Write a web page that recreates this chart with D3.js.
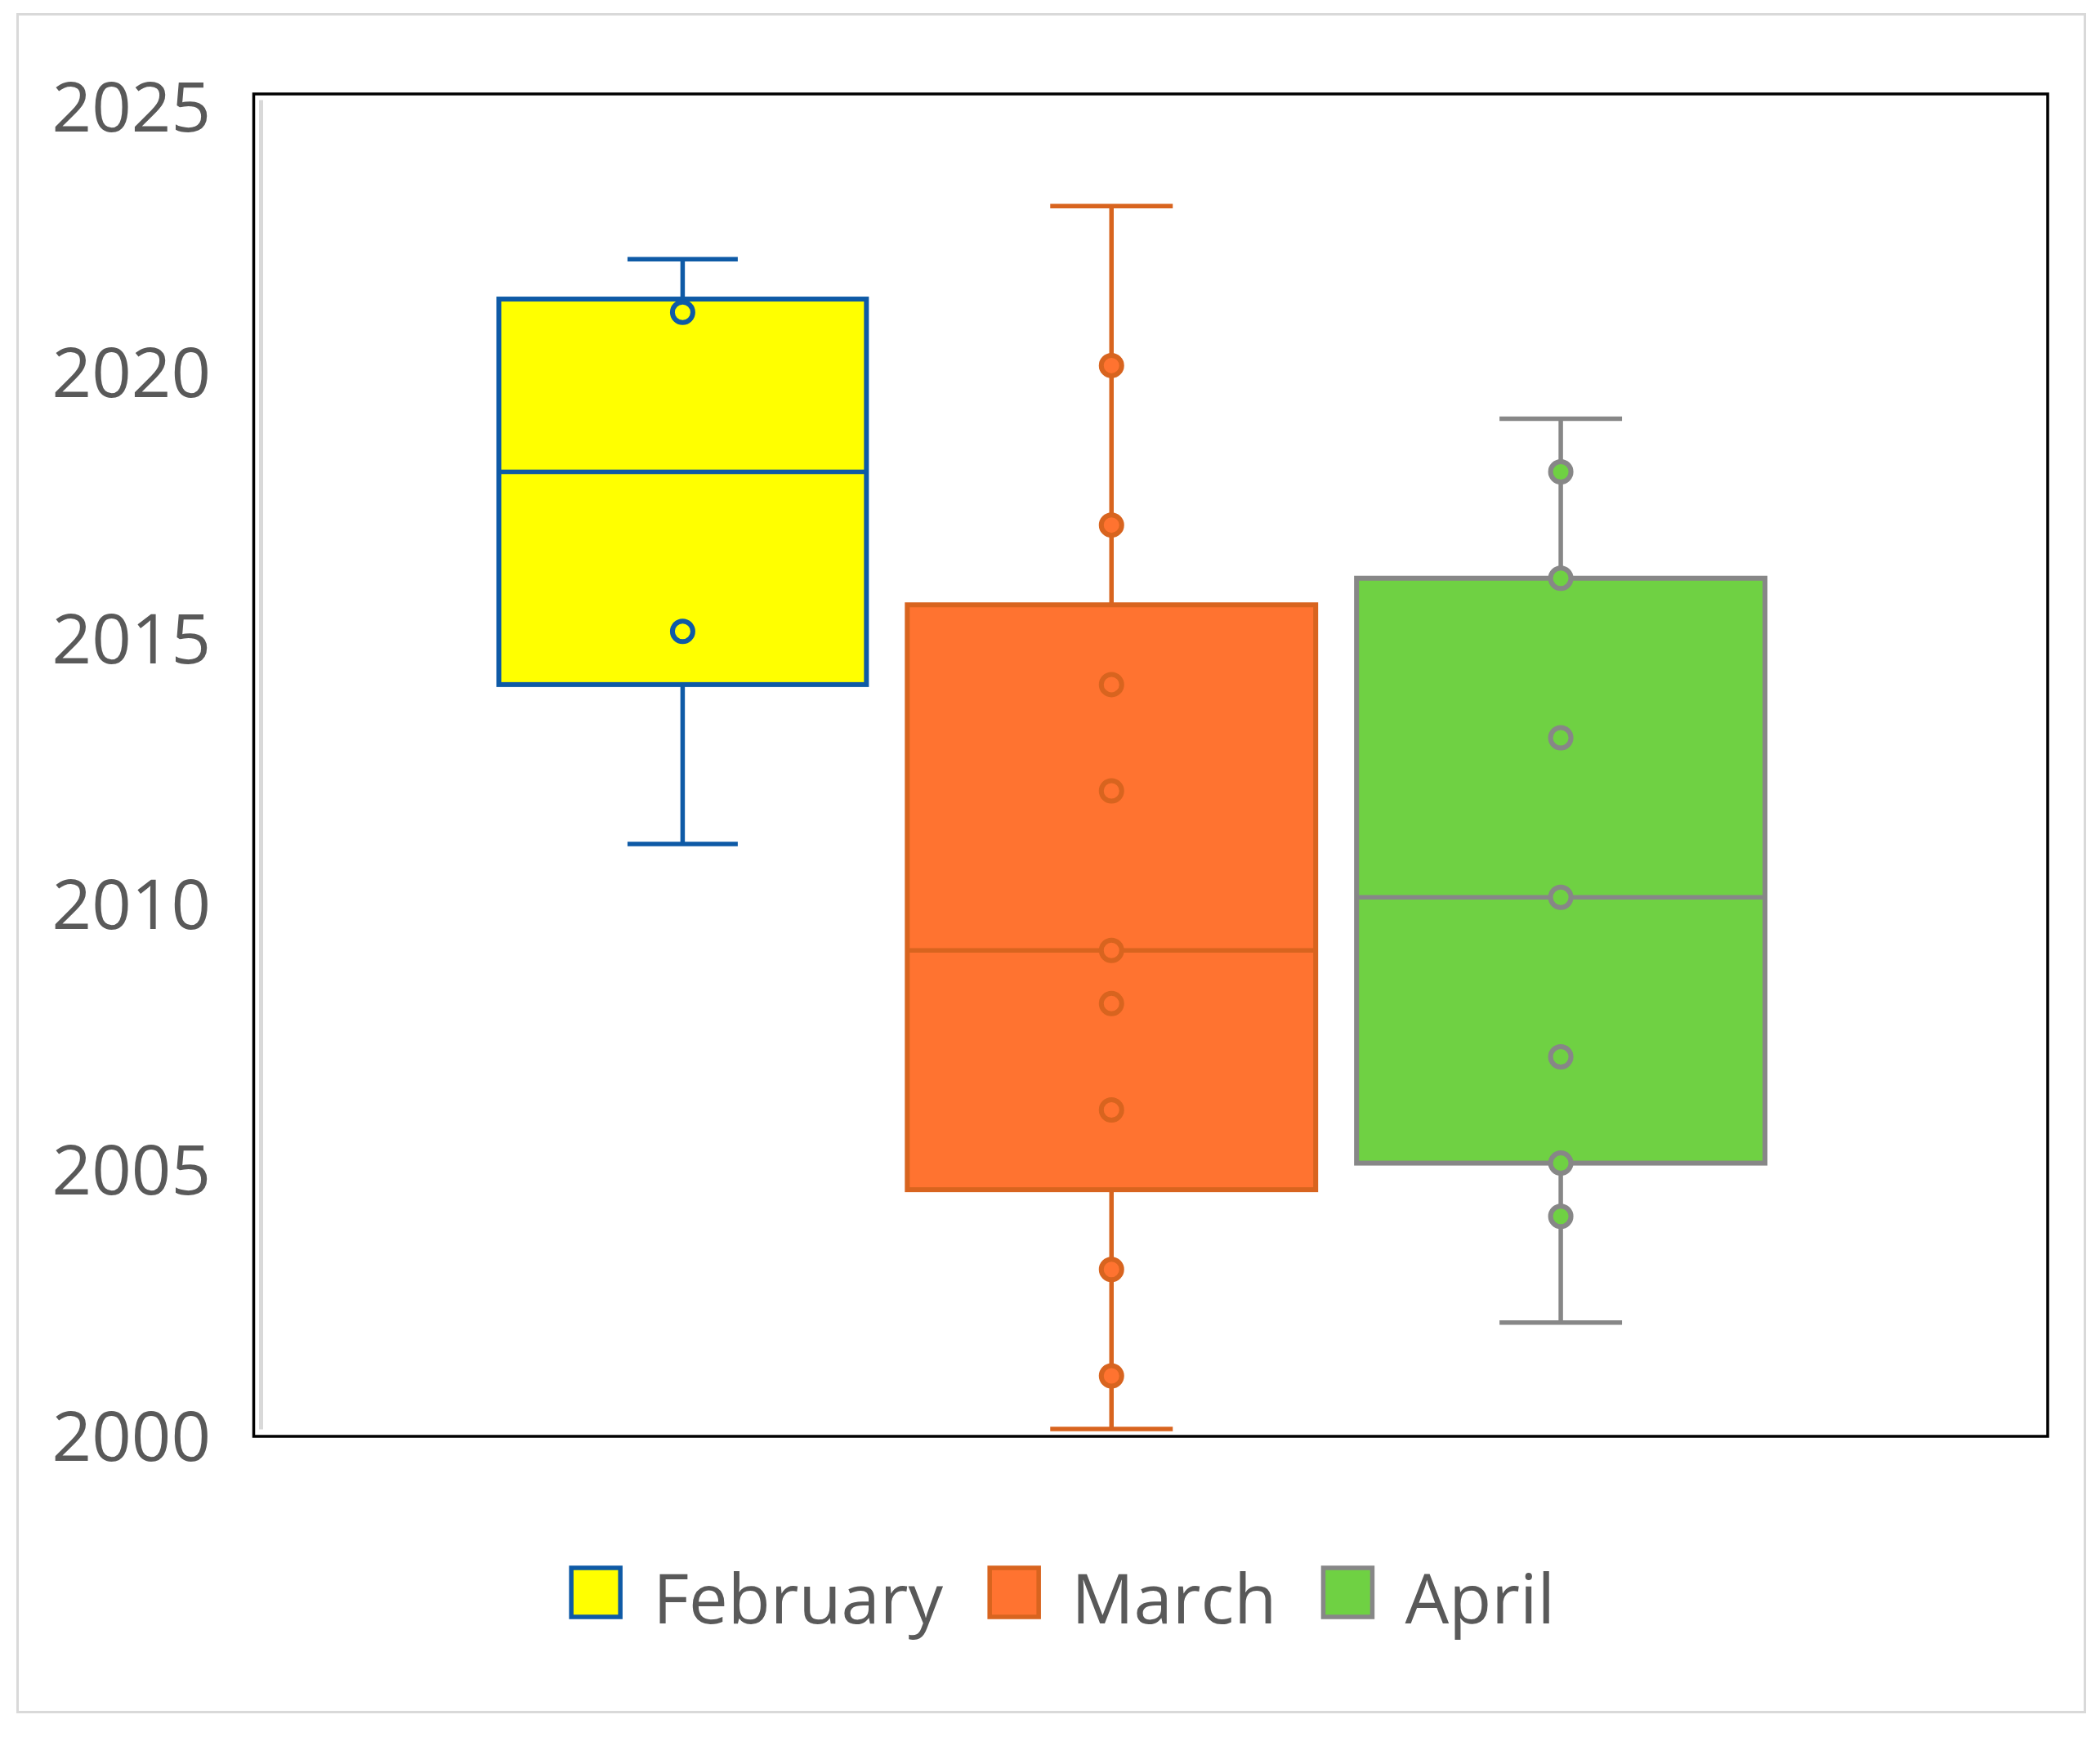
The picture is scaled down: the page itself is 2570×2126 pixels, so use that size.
<!DOCTYPE html>
<html lang="en">
<head>
    <meta charset="UTF-8">
    <title>box and whisker</title>
    <script src="https://cdn.jsdelivr.net/npm/d3@7"></script>
    <style>
        body {
            margin: 0;
            background: #fff;
        }

        svg {
            display: block;
        }

        .outer {
            fill: #fff;
            stroke: #d9d9d9;
            stroke-width: 3px;
        }

        .frame {
            fill: none;
            stroke: #000;
            stroke-width: 3.5px;
        }

        .y-axis .domain {
            stroke: #d9d9d9;
            stroke-width: 5px;
        }

        .y-axis text, .legend text {
            fill: #595959;
            font-family: "Open Sans", "Noto Sans", sans-serif;
            font-size: 85px;
        }
    </style>
</head>
<body>
<svg width="2570" height="2126"></svg>
<script>

    // data
    var seriesNames = ['February', 'March', 'April'];
    var februaryValues = [2011, 2015, 2021, 2022];
    var marchValues = [2000, 2001, 2003, 2006, 2008, 2009, 2012, 2014, 2017, 2020, 2023];
    var aprilValues = [2002, 2004, 2005, 2007, 2010, 2013, 2016, 2018, 2019];
    var yTicks = [2000, 2005, 2010, 2015, 2020, 2025];

    var seriesValues = [februaryValues, marchValues, aprilValues];

    // look of each series
    var styles = {
        February: {fill: '#ffff00', stroke: '#0e5aa6', widthFactor: 0.9},
        March: {fill: '#ff7330', stroke: '#d8641f', widthFactor: 1},
        April: {fill: '#6fd143', stroke: '#878787', widthFactor: 1}
    };

    var svg = d3.select('svg');

    svg.append('rect')
        .attr('class', 'outer')
        .attr('x', 21.5).attr('y', 17.5)
        .attr('width', 2530).attr('height', 2078);

    svg.append('rect')
        .attr('class', 'frame')
        .attr('x', 310.5).attr('y', 115)
        .attr('width', 2195.5).attr('height', 1643);

    var y = d3.scaleLinear()
        .domain([2000, 2025])
        .range([1749, 122]);

    var x = d3.scaleBand()
        .domain(seriesNames)
        .range([560.5, 2160])
        .paddingInner(50 / 550)
        .paddingOuter(0);

    var yAxis = d3.axisLeft(y)
        .tickValues(yTicks)
        .tickFormat(d3.format('d'))
        .tickSize(0)
        .tickSizeOuter(0)
        .tickPadding(61);

    svg.append('g')
        .attr('class', 'y-axis')
        .attr('transform', 'translate(319,0)')
        .call(yAxis)
        .call(function (g) {
            g.attr('font-family', null).attr('font-size', null);
            g.selectAll('text').attr('dy', '0.45em').attr('fill', null);
        });

    var stats = seriesNames.map(function (name, i) {
        var sorted = seriesValues[i].slice().sort(d3.ascending);
        return {
            name: name,
            values: sorted,
            min: sorted[0],
            q1: d3.quantile(sorted, 0.25),
            median: d3.quantile(sorted, 0.5),
            q3: d3.quantile(sorted, 0.75),
            max: sorted[sorted.length - 1]
        };
    });

    var boxLayer = svg.append('g').attr('class', 'boxes');

    stats.forEach(function (s) {
        var st = styles[s.name];
        var bandRight = x(s.name) + x.bandwidth();
        var w = x.bandwidth() * st.widthFactor;
        var left = bandRight - w;
        var cx = left + w / 2;
        var capHalf = w * 0.15;

        var g = boxLayer.append('g')
            .attr('stroke', st.stroke)
            .attr('stroke-width', 5.5);

        // whiskers
        g.append('line')
            .attr('x1', cx).attr('x2', cx)
            .attr('y1', y(s.max)).attr('y2', y(s.q3));
        g.append('line')
            .attr('x1', cx).attr('x2', cx)
            .attr('y1', y(s.q1)).attr('y2', y(s.min));
        g.append('line')
            .attr('x1', cx - capHalf).attr('x2', cx + capHalf)
            .attr('y1', y(s.max)).attr('y2', y(s.max));
        g.append('line')
            .attr('x1', cx - capHalf).attr('x2', cx + capHalf)
            .attr('y1', y(s.min)).attr('y2', y(s.min));

        // box
        g.append('rect')
            .attr('x', left).attr('y', y(s.q3))
            .attr('width', w).attr('height', y(s.q1) - y(s.q3))
            .attr('fill', st.fill)
            .attr('stroke-width', 6);
        g.append('line')
            .attr('x1', left).attr('x2', left + w)
            .attr('y1', y(s.median)).attr('y2', y(s.median));

        // inner points
        g.selectAll('circle')
            .data(s.values.filter(function (v) { return v > s.min && v < s.max; }))
            .enter()
            .append('circle')
            .attr('cx', cx)
            .attr('cy', function (d) { return y(d); })
            .attr('r', 12.5)
            .attr('fill', st.fill)
            .attr('stroke-width', 6);
    });

    // legend
    var legend = svg.append('g').attr('class', 'legend');
    var swatch = 60, textGap = 40, itemGap = 57;
    var items = seriesNames.map(function (name) {
        var it = legend.append('g');
        it.append('rect')
            .attr('width', swatch).attr('height', swatch)
            .attr('y', 1919)
            .attr('fill', styles[name].fill)
            .attr('stroke', styles[name].stroke)
            .attr('stroke-width', 5.5);
        var t = it.append('text')
            .attr('y', 1987)
            .text(name);
        return {g: it, text: t, width: t.node().getComputedTextLength()};
    });
    var total = d3.sum(items, function (d) { return swatch + textGap + d.width; }) + itemGap * (items.length - 1);
    var pos = 1301 - total / 2;
    items.forEach(function (d) {
        d.g.select('rect').attr('x', pos);
        d.text.attr('x', pos + swatch + textGap);
        pos += swatch + textGap + d.width + itemGap;
    });

</script>
</body>
</html>
